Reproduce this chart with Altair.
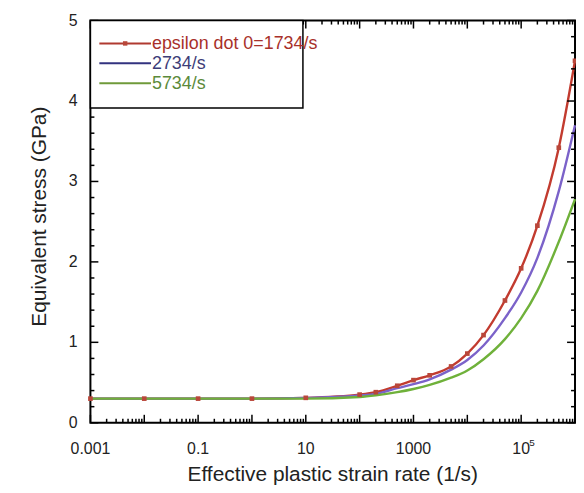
import altair as alt
import pandas as pd

# ---- data ----
rates = [0.001, 0.01, 0.1, 1, 10, 100, 200, 500, 1000, 2000, 5000,
         1e4, 2e4, 5e4, 1e5, 2e5, 5e5, 1e6]
stress_1734 = [0.30, 0.30, 0.30, 0.30, 0.31, 0.35, 0.38, 0.46, 0.53, 0.59, 0.70,
               0.86, 1.09, 1.52, 1.92, 2.45, 3.42, 4.50]
stress_2734 = [0.30, 0.30, 0.30, 0.30, 0.31, 0.34, 0.36, 0.43, 0.48, 0.54, 0.66,
               0.78, 0.96, 1.30, 1.62, 2.05, 2.88, 3.70]
stress_5734 = [0.30, 0.30, 0.30, 0.30, 0.30, 0.32, 0.34, 0.38, 0.42, 0.47, 0.56,
               0.65, 0.79, 1.04, 1.30, 1.64, 2.25, 2.78]

series_names = ["1734", "2734", "5734"]
legend_labels = ["epsilon dot 0=1734/s", "2734/s", "5734/s"]
line_colors = ["#c23b2f", "#7b62c9", "#6fb13a"]
legend_line_colors = ["#b03a30", "#33337f", "#6f9a3a"]
legend_text_colors = ["#a8302a", "#3d3d78", "#5b8a3a"]

x_label_values = [0.001, 0.1, 10, 1000, 1e5]
x_label_texts = ["0.001", "0.1", "10", "1000", "10"]
x_label_sups = ["", "", "", "", "5"]
y_label_values = [0, 1, 2, 3, 4, 5]
y_label_texts = ["0", "1", "2", "3", "4", "5"]
x_title = "Effective plastic strain rate (1/s)"
y_title = "Equivalent stress (GPa)"

x_major = [0.001, 0.01, 0.1, 1, 10, 100, 1000, 1e4, 1e5]
x_minor = [m * d for d in x_major for m in range(2, 10)]
y_major = [0.0, 1.0, 2.0, 3.0, 4.0, 5.0]
y_minor = [0.2, 0.4, 0.6, 0.8, 1.2, 1.4, 1.6, 1.8, 2.2, 2.4, 2.6, 2.8,
           3.2, 3.4, 3.6, 3.8, 4.2, 4.4, 4.6, 4.8]

W, H = 488, 405
FONT = "Liberation Sans"

rows = []
for name, vals in zip(series_names, [stress_1734, stress_2734, stress_5734]):
    for r, s in zip(rates, vals):
        rows.append({"rate": r, "stress": s, "series": name})
df = pd.DataFrame(rows)

xscale = alt.Scale(type="log", domain=[0.001, 1e6], nice=False)
yscale = alt.Scale(domain=[0, 5], nice=False, zero=False)

lines = alt.Chart(df).mark_line(strokeWidth=2.4, interpolate="monotone").encode(
    x=alt.X("rate:Q", scale=xscale, axis=None),
    y=alt.Y("stress:Q", scale=yscale, axis=None),
    color=alt.Color("series:N", scale=alt.Scale(domain=series_names, range=line_colors),
                    legend=None),
    order=alt.Order("series:N"),
)

markers = alt.Chart(df[df.series == "1734"]).mark_square(
    size=22, color="#b9473a", opacity=1).encode(
    x=alt.X("rate:Q", scale=xscale, axis=None),
    y=alt.Y("stress:Q", scale=yscale, axis=None),
)

# inward tick marks on all four sides (rules from the tick positions)
def xticks(values, length):
    d = pd.DataFrame({"v": values})
    bottom = alt.Chart(d).mark_rule(color="black", strokeWidth=1.5).encode(
        x=alt.X("v:Q", scale=xscale, axis=None), y=alt.value(H), y2=alt.value(H - length))
    top = alt.Chart(d).mark_rule(color="black", strokeWidth=1.5).encode(
        x=alt.X("v:Q", scale=xscale, axis=None), y=alt.value(0), y2=alt.value(length))
    return [bottom, top]

def yticks(values, length):
    d = pd.DataFrame({"v": values})
    left = alt.Chart(d).mark_rule(color="black", strokeWidth=1.5).encode(
        y=alt.Y("v:Q", scale=yscale, axis=None), x=alt.value(0), x2=alt.value(length))
    right = alt.Chart(d).mark_rule(color="black", strokeWidth=1.5).encode(
        y=alt.Y("v:Q", scale=yscale, axis=None), x=alt.value(W), x2=alt.value(W - length))
    return [left, right]

tick_layers = xticks(x_major, 8) + xticks(x_minor, 4) + yticks(y_major, 8) + yticks(y_minor, 4)

# axis labels and titles as text (ASCII only; superscript drawn as its own small text)
xl = pd.DataFrame({"lv": x_label_values, "t": x_label_texts, "s": x_label_sups})
x_labels = alt.Chart(xl).mark_text(font=FONT, fontSize=16, color="#222", baseline="middle").encode(
    x=alt.X("lv:Q", scale=xscale, axis=None), y=alt.value(H + 26), text="t:N")
x_sups = alt.Chart(xl).mark_text(font=FONT, fontSize=10, color="#222", baseline="middle",
                                 dx=11, dy=-6).encode(
    x=alt.X("lv:Q", scale=xscale, axis=None), y=alt.value(H + 26), text="s:N")
yl = pd.DataFrame({"lv": y_label_values, "t": y_label_texts})
y_labels = alt.Chart(yl).mark_text(font=FONT, fontSize=16, color="#222", align="right",
                                   baseline="middle").encode(
    y=alt.Y("lv:Q", scale=yscale, axis=None), x=alt.value(-13), text="t:N")

one = pd.DataFrame({"a": [0]})
x_title_mark = alt.Chart(one).mark_text(font=FONT, fontSize=21, color="#222", baseline="middle").encode(
    x=alt.value(W / 2), y=alt.value(H + 53), text=alt.value(x_title))
y_title_mark = alt.Chart(one).mark_text(font=FONT, fontSize=21, color="#222", baseline="middle",
                                        angle=270).encode(
    x=alt.value(-51), y=alt.value(H / 2 - 5), text=alt.value(y_title))

legend_box = alt.Chart(one).mark_rect(fill="white", stroke="black", strokeWidth=1.5).encode(
    x=alt.value(0), x2=alt.value(214), y=alt.value(0), y2=alt.value(88))

legend_layers = [legend_box]
row_y = [23, 43, 63]
for i in range(3):
    legend_layers.append(alt.Chart(one).mark_rule(color=legend_line_colors[i], strokeWidth=2).encode(
        x=alt.value(9), x2=alt.value(61), y=alt.value(row_y[i])))
    legend_layers.append(alt.Chart(one).mark_text(
        align="left", baseline="middle", font=FONT, fontSize=18, color=legend_text_colors[i]).encode(
        x=alt.value(62), y=alt.value(row_y[i] + 1), text=alt.value(legend_labels[i])))
legend_layers.append(alt.Chart(one).mark_square(size=20, color="#b9473a", opacity=1).encode(
    x=alt.value(35), y=alt.value(row_y[0])))

chart = alt.layer(lines, markers, *tick_layers, x_labels, x_sups, y_labels,
                  x_title_mark, y_title_mark, *legend_layers).properties(
    width=W, height=H,
    autosize=alt.AutoSizeParams(type="none"),
    padding={"left": 83, "top": 11, "right": 1, "bottom": 61},
).configure_view(stroke="black", strokeWidth=2)

chart.save("out.html", embed_options={"renderer": "svg", "actions": False})
